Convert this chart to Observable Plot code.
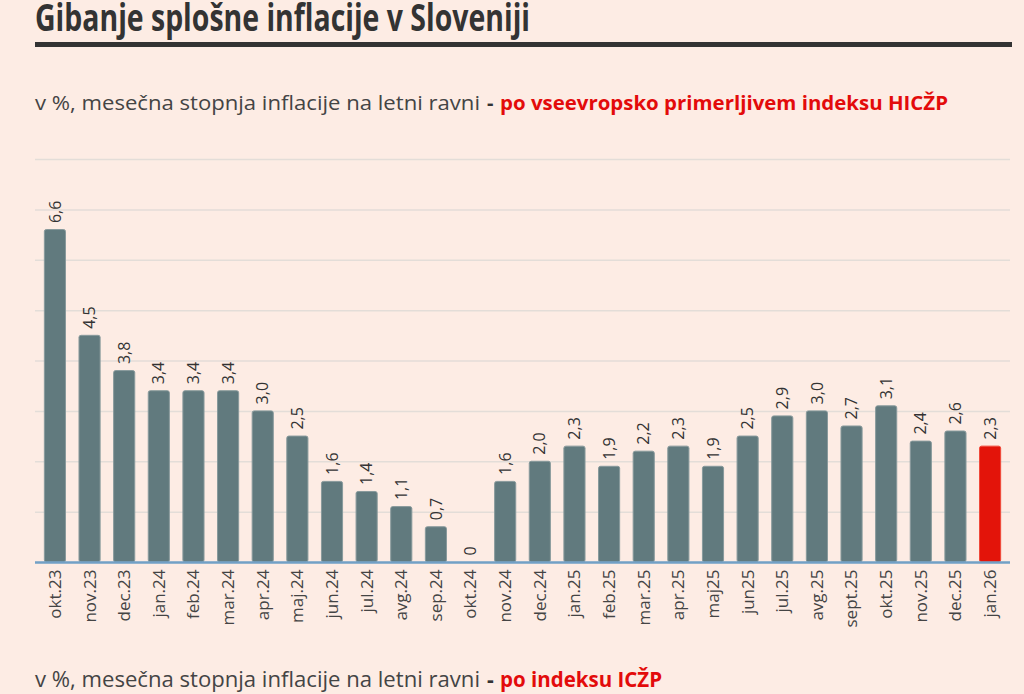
<!DOCTYPE html>
<html>
<head>
<meta charset="utf-8">
<script src="https://cdn.jsdelivr.net/npm/d3@7"></script>
<script src="https://cdn.jsdelivr.net/npm/@observablehq/plot@0.6"></script>
<style>
  html, body { margin: 0; padding: 0; background: #fdece4; }
  #wrap { position: relative; width: 1024px; height: 694px; overflow: hidden; background: #fdece4; font-family: "Open Sans", sans-serif; }
  #head { position: absolute; left: 0; top: 0; }
  #chart { position: absolute; left: 0; top: 140px; }
  #foot { position: absolute; left: 0; top: 650px; }
</style>
</head>
<body>
<div id="wrap">
  <svg id="head" width="1024" height="130">
    <text x="35" y="31" font-family="Open Sans" font-weight="700" font-size="38" fill="#333" textLength="495" lengthAdjust="spacingAndGlyphs">Gibanje splošne inflacije v Sloveniji</text>
    <rect x="35" y="42" width="977" height="5" fill="#333"></rect>
    <text x="35" y="110" font-family="Open Sans" font-size="20" fill="#444"><tspan textLength="445" lengthAdjust="spacingAndGlyphs">v %, mesečna stopnja inflacije na letni ravni</tspan><tspan x="487" font-weight="700" fill="#333">-</tspan><tspan x="500" font-weight="700" fill="#e30b0b" textLength="448" lengthAdjust="spacingAndGlyphs">po vseevropsko primerljivem indeksu HICŽP</tspan></text>
  </svg>
  <div id="chart"></div>
  <svg id="foot" width="1024" height="44">
    <text x="35" y="37" font-family="Open Sans" font-size="21" fill="#444"><tspan textLength="445" lengthAdjust="spacingAndGlyphs">v %, mesečna stopnja inflacije na letni ravni</tspan><tspan x="487" font-weight="700" fill="#333">-</tspan><tspan x="500" font-weight="700" fill="#e30b0b" textLength="162" lengthAdjust="spacingAndGlyphs">po indeksu ICŽP</tspan></text>
  </svg>
</div>
<script>
const months = ["okt.23","nov.23","dec.23","jan.24","feb.24","mar.24","apr.24","maj.24","jun.24","jul.24","avg.24","sep.24","okt.24","nov.24","dec.24","jan.25","feb.25","mar.25","apr.25","maj25","jun25","jul.25","avg.25","sept.25","okt.25","nov.25","dec.25","jan.26"];
const values = [6.6,4.5,3.8,3.4,3.4,3.4,3.0,2.5,1.6,1.4,1.1,0.7,0,1.6,2.0,2.3,1.9,2.2,2.3,1.9,2.5,2.9,3.0,2.7,3.1,2.4,2.6,2.3];
const yTicks = [0,1,2,3,4,5,6,7,8];
const highlight = "jan.26";

const grey = "#617a7e";
const red = "#e3140a";
const data = months.map((m, i) => ({m, v: values[i]}));
const fmt = v => v === 0 ? "0" : v.toFixed(1).replace(".", ",");

const chart = Plot.plot({
  width: 1024,
  height: 492,
  marginLeft: 35,
  marginRight: 14,
  marginTop: 19,
  marginBottom: 70,
  style: {fontFamily: "Open Sans", background: "transparent"},
  x: {domain: months, paddingInner: 0.39, paddingOuter: 0.27, round: false, axis: null},
  y: {domain: [0, 8], axis: null},
  marks: [
    Plot.ruleY(yTicks, {stroke: "#e3ddd8", strokeWidth: 1.5}),
    Plot.barY(data, {x: "m", y: "v", fill: d => d.m === highlight ? red : grey, stroke: d => d.m === highlight ? "#f04a3a" : "#889a9c", strokeWidth: 1, rx: 2}),
    Plot.ruleY([0], {stroke: "#72a0c6", strokeWidth: 2.5}),
    Plot.text(data, {x: "m", y: "v", text: d => fmt(d.v), rotate: -90, textAnchor: "start", dy: -7, fontSize: 16, fill: "#333"}),
    Plot.axisX({tickRotate: -90, tickSize: 0, tickPadding: 7, fontSize: 17, fill: "#444", label: null})
  ]
});
document.getElementById("chart").appendChild(chart);
</script>
</body>
</html>
